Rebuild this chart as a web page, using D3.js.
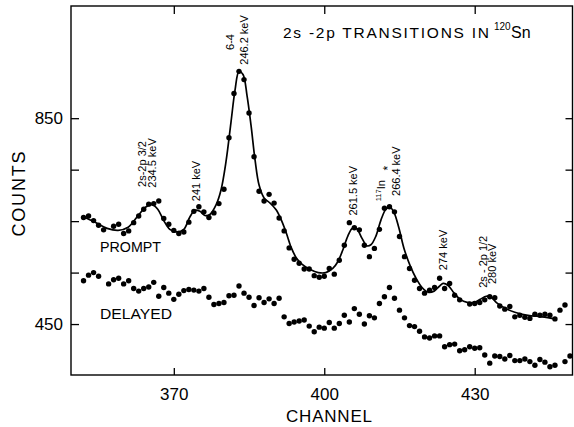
<!DOCTYPE html>
<html>
<head>
<meta charset="utf-8">
<script src="https://cdn.jsdelivr.net/npm/d3@7"></script>
<style>
  body { margin: 0; background: #fff; }
  text { font-family: "Liberation Sans", Arial, Helvetica, sans-serif; fill: #000; }
</style>
</head>
<body>
<svg id="chart" width="574" height="427"></svg>
<script>
// Prompt gamma spectrum: channel and counts for each measured point
const promptChannels = [
  352,353,354,355,356,
  358,359,360,361,362,363,364,365,366,367,
  368,369,370,371,372,373,374,375,376,377,
  378,379,380,381,382,383,384,385,386,387,
  388,389,390,391,392,393,394,395,396,397,
  398,399,400,401,402,403,404,405,406,407,
  408,409,410,411,412,413,414,415,416,417,
  418,419,420,421,422,423,424,425,426,427,
  429,430,431,432,433,434,435,436,437,438,
  439,440,441,442,443,444,445,446,447,448
];
const promptCounts = [
  657,660,651,642,633,
  640,644,626,631,647,660,673,683,684,689,
  655,644,632,626,629,648,669,678,668,657,
  666,684,712,812,898,941,925,860,775,708,
  689,702,685,656,631,598,576,568,557,557,
  544,541,543,558,547,574,603,647,637,633,
  603,581,597,634,675,678,668,620,581,558,
  535,519,510,516,521,539,519,529,506,497,
  489,490,492,497,503,501,485,479,484,464,
  467,463,461,469,467,469,467,460,477,487
];

// Fitted line through the prompt spectrum (knots along the drawn curve)
const fitChannels = [
  352,354.3,356.7,358.9,360.9,362.9,364.5,365.7,366.8,368.0,
  369.2,370.6,372.0,373.2,374.2,375.2,376.2,377.2,378.4,379.4,
  380.4,381.4,382.2,383.0,383.8,384.6,385.4,386.2,387.0,388.0,
  389.2,390.4,391.4,392.4,393.4,394.4,395.6,397.2,398.8,400.3,
  401.7,402.7,403.7,404.7,405.7,406.5,407.5,408.5,409.3,410.3,
  411.3,412.3,413.1,413.9,414.9,415.9,417.1,418.3,419.5,420.7,
  421.9,422.9,423.7,424.7,425.9,427.1,428.5,429.9,431.1,432.3,
  433.3,434.4,436.0,438.0,440.6,443.4,446.2
];
const fitCounts = [
  658,648,636,632,638,661,678,682,673,651,
  634,629,634,658,671,669,661,663,681,710,
  765,842,904,941,935,894,836,769,720,695,
  685,672,653,628,599,579,566,556,550,550,
  558,571,594,621,637,635,617,602,604,621,
  652,673,677,667,636,597,564,539,521,512,
  514,523,529,525,510,498,492,492,498,504,
  502,491,481,473,467,464,460
];

// Delayed spectrum
const delayedChannels = [
  352,353,354,355,
  357,358,359,360,361,362,363,364,365,366,
  367,368,369,370,371,372,373,374,375,376,
  377,378,379,380,381,382,383,384,385,386,
  387,388,389,390,391,392,393,394,395,396,
  397,398,399,400,401,402,403,404,405,406,
  407,408,409,410,411,412,413,414,415,416,
  417,418,419,420,421,422,423,424,425,426,
  427,428,429,430,431,432,433,434,435,436,
  437,438,439,440,441,442,443,444,445,446,
  448,449
];
const delayedCounts = [
  534,545,550,543,
  528,536,539,528,534,519,514,519,522,531,
  504,521,510,498,508,515,517,516,514,519,
  502,488,490,492,505,506,524,510,502,486,
  501,492,499,490,500,464,451,454,456,458,
  446,435,444,442,453,442,451,467,454,480,
  469,450,466,462,490,503,521,500,477,462,
  447,445,436,425,423,427,427,406,410,411,
  398,400,406,403,404,390,374,388,387,382,
  389,379,379,382,377,370,381,376,367,370,
  377,388
];

const xTicks = [370, 400, 430];
const xTickLabels = ["370", "400", "430"];
const yTicks = [450, 550, 650, 750, 850];
const yTickLabels = ["450", "", "", "", "850"];

// Peak annotations (rotated text), anchored in channel / counts units
const peakLabels = [
  { text: "2s-2p 3/2", ch: 363.66, c: 761 },
  { text: "234.5 keV", ch: 365.75, c: 763 },
  { text: "241 keV",   ch: 374.4,  c: 728 },
  { text: "6-4",       ch: 381.2,  c: 998 },
  { text: "246.2 keV", ch: 384.0,  c: 1002 },
  { text: "261.5 keV", ch: 405.7,  c: 709 },
  { text: "266.4 keV", ch: 414.3,  c: 747 },
  { text: "274 keV",   ch: 423.7,  c: 594 },
  { text: "2s - 2p 1/2", ch: 431.65, c: 571 },
  { text: "280 keV",   ch: 433.45, c: 567 }
];

const W = 574, H = 427;
const plot = { left: 71, right: 572.5, top: 6, bottom: 375 };

const svg = d3.select("#chart");
svg.append("rect").attr("width", W).attr("height", H).attr("fill", "#fff");

const x = d3.scaleLinear().domain([349.5, 449.5]).range([plot.left, plot.right]);
const y = d3.scaleLinear().domain([351, 1068]).range([plot.bottom, plot.top]);

const fontFamily = '"Liberation Sans", Arial, Helvetica, sans-serif';

// Axes with inward ticks on all four sides
const axisStyle = g => {
  g.select(".domain").remove();
  g.selectAll("line").attr("stroke", "#000").attr("stroke-width", 1.3);
  g.selectAll("text").attr("font-family", fontFamily).attr("fill", "#000");
};

svg.append("g")
  .attr("transform", `translate(0,${plot.bottom})`)
  .call(d3.axisBottom(x).tickValues(xTicks).tickSize(-7).tickPadding(13)
    .tickFormat((d, i) => xTickLabels[i]))
  .call(axisStyle)
  .selectAll("text").attr("font-size", 17);

svg.append("g")
  .attr("transform", `translate(0,${plot.top})`)
  .call(d3.axisTop(x).tickValues(xTicks).tickSize(-8).tickFormat(() => ""))
  .call(axisStyle);

svg.append("g")
  .attr("transform", `translate(${plot.left},0)`)
  .call(d3.axisLeft(y).tickValues(yTicks).tickSize(-8).tickPadding(8)
    .tickFormat((d, i) => yTickLabels[i]))
  .call(axisStyle)
  .selectAll("text").attr("font-size", 17);

svg.append("g")
  .attr("transform", `translate(${plot.right},0)`)
  .call(d3.axisRight(y).tickValues(yTicks).tickSize(-7).tickFormat(() => ""))
  .call(axisStyle);

// Frame
svg.append("rect")
  .attr("x", plot.left).attr("y", plot.top)
  .attr("width", plot.right - plot.left).attr("height", plot.bottom - plot.top)
  .attr("fill", "none").attr("stroke", "#000").attr("stroke-width", 1.4);

const prompt = promptChannels.map((ch, i) => ({ ch, c: promptCounts[i] }));
const delayed = delayedChannels.map((ch, i) => ({ ch, c: delayedCounts[i] }));
const fit = fitChannels.map((ch, i) => ({ ch, c: fitCounts[i] }));

// Fitted prompt curve
const fitLine = d3.line().x(d => x(d.ch)).y(d => y(d.c)).curve(d3.curveCatmullRom.alpha(0.5));
svg.append("path")
  .datum(fit)
  .attr("d", fitLine)
  .attr("fill", "none").attr("stroke", "#000").attr("stroke-width", 1.7)
  .attr("stroke-linejoin", "round");

// Data points
const drawPoints = (data) => svg.append("g").selectAll("circle")
  .data(data).join("circle")
  .attr("cx", d => x(d.ch)).attr("cy", d => y(d.c))
  .attr("r", 2.7).attr("fill", "#000");
drawPoints(prompt);
drawPoints(delayed);

// Rotated peak annotations
peakLabels.forEach(l => {
  svg.append("text")
    .attr("transform", `translate(${x(l.ch)},${y(l.c)}) rotate(-90)`)
    .attr("text-anchor", "middle").attr("dy", "0.35em")
    .attr("font-size", 11)
    .text(l.text);
});

// 117In* label with superscript mass number
const inLabel = svg.append("text")
  .attr("transform", `translate(${x(411.3)},${y(709)}) rotate(-90)`)
  .attr("text-anchor", "middle").attr("y", 4)
  .attr("font-size", 11);
inLabel.append("tspan").attr("font-size", 7.5).attr("dy", -4).text("117");
inLabel.append("tspan").attr("dy", 4).text("In");
svg.append("text")
  .attr("transform", `translate(${x(412.7)},${y(753)}) rotate(-90)`)
  .attr("text-anchor", "middle").attr("dy", "0.35em")
  .attr("font-size", 12)
  .text("*");

// Series labels
svg.append("text").attr("x", 100).attr("y", 252)
  .attr("font-size", 14).attr("textLength", 61).attr("lengthAdjust", "spacingAndGlyphs")
  .text("PROMPT");
svg.append("text").attr("x", 100).attr("y", 319)
  .attr("font-size", 14).attr("textLength", 72).attr("lengthAdjust", "spacingAndGlyphs")
  .text("DELAYED");

// Title
svg.append("text").attr("x", 283).attr("y", 38)
  .attr("font-size", 15.5).attr("textLength", 206).attr("lengthAdjust", "spacing")
  .text("2s -2p TRANSITIONS IN");
svg.append("text").attr("x", 494).attr("y", 30)
  .attr("font-size", 10)
  .text("120");
svg.append("text").attr("x", 511).attr("y", 38)
  .attr("font-size", 16)
  .text("Sn");

// Axis titles
svg.append("text").attr("x", 329).attr("y", 422)
  .attr("text-anchor", "middle").attr("font-size", 17)
  .attr("textLength", 86).attr("lengthAdjust", "spacing")
  .text("CHANNEL");
svg.append("text")
  .attr("transform", "translate(25,194) rotate(-90)")
  .attr("text-anchor", "middle").attr("font-size", 18)
  .attr("textLength", 85).attr("lengthAdjust", "spacing")
  .text("COUNTS");
</script>
</body>
</html>
